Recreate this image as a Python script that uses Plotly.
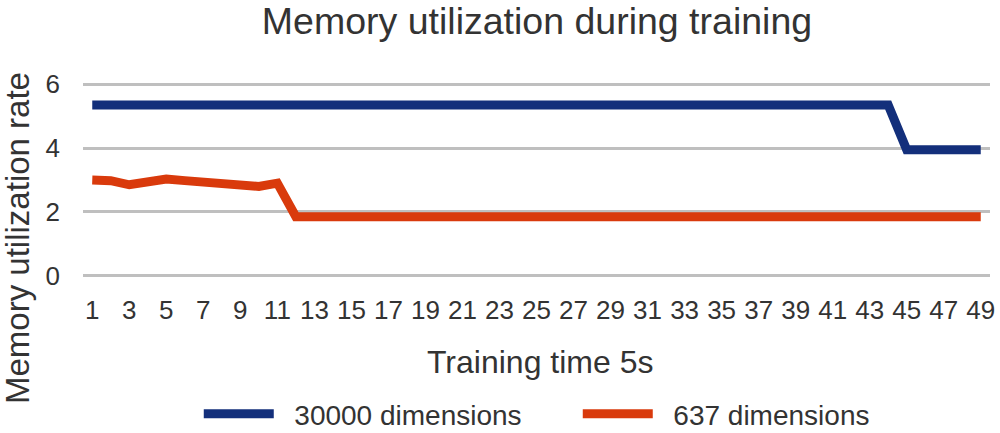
import plotly.graph_objects as go

time_steps = list(range(1, 50))
dims_30000 = [5.35] * 44 + [3.95] * 5
dims_637 = [3.00, 2.98, 2.85, 2.92, 3.03, 2.98, 2.94, 2.94, 2.90, 2.80, 2.90] + [1.85] * 38
tick_labels = [str(i) for i in range(1, 50, 2)]

FONT = "Liberation Sans, Arial, Helvetica, sans-serif"
TXT = "#333333"
GRID = "#bfbfbf"
NB = "\u00a0"

# plot area in pixels
L, R, T, B = 83, 990, 83, 277
W, H = 1000, 433


def px_x(x):
    return (x - L) / (R - L)


def px_y(y):
    return (B - y) / (B - T)


fig = go.Figure()
fig.add_trace(go.Scatter(x=time_steps, y=dims_30000, mode="lines", name=NB * 2 + "30000 dimensions",
                         line=dict(color="#132f7b", width=9)))
fig.add_trace(go.Scatter(x=time_steps, y=dims_637, mode="lines", name=NB * 2 + "637 dimensions",
                         line=dict(color="#d93a0c", width=9)))

fig.update_layout(
    width=W, height=H,
    paper_bgcolor="white", plot_bgcolor="white",
    font=dict(family=FONT, color=TXT, size=24),
    margin=dict(l=L, r=W - R, t=T, b=H - B, autoexpand=False),
    title=dict(text="Memory utilization during training", x=0.537, xanchor="center",
               y=1 - 21 / H, yref="container", yanchor="middle",
               font=dict(size=37.5, color=TXT)),
    xaxis=dict(range=[0.5, 49.5], tickmode="array",
               tickvals=list(range(1, 50, 2)), ticktext=tick_labels,
               showgrid=False, zeroline=False, showline=False, automargin=False,
               tickfont=dict(size=26), ticklabelstandoff=15),
    yaxis=dict(range=[-0.04, 6.04], tickvals=[0, 2, 4, 6], showgrid=True, gridcolor=GRID,
               gridwidth=2.5, zeroline=True, zerolinecolor=GRID, zerolinewidth=2.5,
               showline=False, automargin=False,
               tickfont=dict(size=26), ticklabelstandoff=22),
    legend=dict(orientation="h", x=0.5455, xanchor="center", y=1 - 414 / H,
                yref="container", yanchor="middle", font=dict(size=28),
                itemwidth=70, entrywidth=294),
    showlegend=True,
    annotations=[
        dict(text="Memory utilization rate", textangle=-90, x=px_x(17), y=px_y(238),
             xref="paper", yref="paper", xanchor="center", yanchor="middle",
             showarrow=False, font=dict(size=33, color=TXT)),
        dict(text="Training time 5s", x=px_x(540), y=px_y(362),
             xref="paper", yref="paper", xanchor="center", yanchor="middle",
             showarrow=False, font=dict(size=32, color=TXT)),
    ],
)

fig.write_html("out.html", config={"displayModeBar": False},
               post_script="document.body.style.margin='0';document.body.style.overflow='hidden';")
